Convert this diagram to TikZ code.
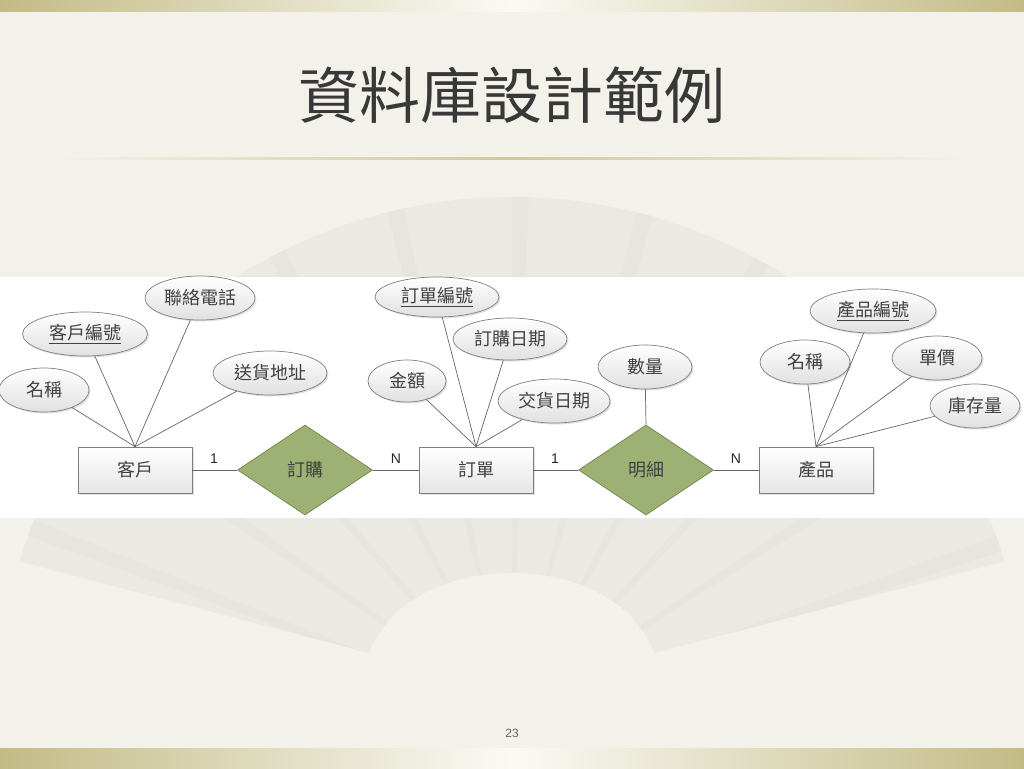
\documentclass[tikz,border=0pt]{standalone}
\usepackage{fontspec}
\setmainfont{Noto Sans CJK TC}
\newfontfamily\latinsans{Liberation Sans}
\usetikzlibrary{shapes.geometric,shadows}
\definecolor{bgc}{HTML}{F3F2EA}
\definecolor{fanc}{HTML}{EAEAE3}
\definecolor{ribc}{HTML}{E6E6DF}
\definecolor{band}{HTML}{C3BB85}
\definecolor{dia}{HTML}{9DB174}
\definecolor{diab}{HTML}{6F844A}
\definecolor{edge}{HTML}{7F7F7F}
\definecolor{txt}{HTML}{404040}
\tikzset{
  ent/.style={rectangle, draw=edge, line width=0.7pt, top color=white, bottom color=black!10,
    minimum width=114pt, minimum height=46pt, inner sep=0pt, text=txt,
    font=\fontsize{18}{18}\selectfont,
    drop shadow={shadow xshift=1.5pt, shadow yshift=-1.5pt, opacity=0.25}},
  rel/.style={diamond, draw=diab, line width=0.7pt, fill=dia, aspect=1.5,
    minimum width=135pt, minimum height=90pt, inner sep=0pt, text=txt,
    font=\fontsize{18}{18}\selectfont},
  attr/.style={ellipse, draw=edge, line width=0.7pt, top color=white, bottom color=black!12,
    minimum height=44pt, inner sep=0pt, text=txt,
    font=\fontsize{18}{18}\selectfont,
    drop shadow={shadow xshift=1.5pt, shadow yshift=-1.5pt, opacity=0.25}},
  conn/.style={draw=black!60, line width=0.7pt},
  card/.style={font=\latinsans\fontsize{14}{14}\selectfont, text=black!85},
}
\begin{document}
\begin{tikzpicture}[x=1pt,y=-1pt]
\useasboundingbox (0,0) rectangle (1024,768);
% background
\fill[bgc] (0,0) rectangle (1024,768);
% faint fan
\begin{scope}
  \path[clip] (512,712) ++(197:515) arc[start angle=197, end angle=343, radius=515]
    -- (654,653) .. controls (615,546) and (409,546) .. (369,653) -- cycle;
  \fill[fanc] (0,150) rectangle (1024,700);
  \foreach \a in {200,214,...,340}{
    \fill[ribc] (512,712) -- ++(\a:560) -- ++(\a+90:18) -- cycle;
  }
\end{scope}
% bands
\shade[left color=band, right color=band, middle color=white!92!band] (0,0) rectangle (1024,12);
\shade[left color=band, right color=band, middle color=white!92!band] (0,748) rectangle (1024,768);
\shade[left color=bgc, right color=bgc, middle color=band!80] (50,157) rectangle (972,159);
% white panel
\fill[white] (0,277) rectangle (1024,518);
% title
\node[font=\fontsize{61}{61}\selectfont, text=black!78, inner sep=0pt] (title) at (512,95) {資料庫設計範例};
% entities and relationships
\node[ent] (kh) at (135,470) {客戶};
\node[rel] (dg) at (305,470) {訂購};
\node[ent] (dd) at (476,470) {訂單};
\node[rel] (mx) at (646,470) {明細};
\node[ent] (cp) at (816,470) {產品};
% attributes of 客戶
\node[attr, minimum width=90pt] (a1) at (44,390) {名稱};
\node[attr, minimum width=125pt] (a2) at (85,334) {\underline{客戶編號}};
\node[attr, minimum width=110pt] (a3) at (200,298) {聯絡電話};
\node[attr, minimum width=114pt] (a4) at (270,373) {送貨地址};
% attributes of 訂單
\node[attr, minimum width=78pt, minimum height=42pt] (b1) at (407,381) {金額};
\node[attr, minimum width=124pt, minimum height=40pt] (b2) at (437,297) {\underline{訂單編號}};
\node[attr, minimum width=114pt, minimum height=42pt] (b3) at (510,339) {訂購日期};
\node[attr, minimum width=112pt] (b4) at (554,401) {交貨日期};
% attribute of 明細
\node[attr, minimum width=94pt] (m1) at (645,367) {數量};
% attributes of 產品
\node[attr, minimum width=126pt] (p1) at (873,311) {\underline{產品編號}};
\node[attr, minimum width=90pt] (p2) at (805,362) {名稱};
\node[attr, minimum width=90pt] (p3) at (937,358) {單價};
\node[attr, minimum width=90pt] (p4) at (975,406) {庫存量};
% connectors
\foreach \n in {a1,a2,a3,a4}{\draw[conn] (kh.north) -- (\n);}
\foreach \n in {b1,b2,b3,b4}{\draw[conn] (dd.north) -- (\n);}
\foreach \n in {p1,p2,p3,p4}{\draw[conn] (cp.north) -- (\n);}
\draw[conn] (mx.north) -- (m1);
\draw[conn] (kh) -- (dg);
\draw[conn] (dg) -- (dd);
\draw[conn] (dd) -- (mx);
\draw[conn] (mx) -- (cp);
% cardinalities
\node[card] (c1) at (214,459) {1};
\node[card] (c2) at (396,459) {N};
\node[card] (c3) at (555,459) {1};
\node[card] (c4) at (736,459) {N};
% page number
\node[font=\latinsans\fontsize{12}{12}\selectfont, text=black!60] (pg) at (512,733) {23};
\end{tikzpicture}
\end{document}
